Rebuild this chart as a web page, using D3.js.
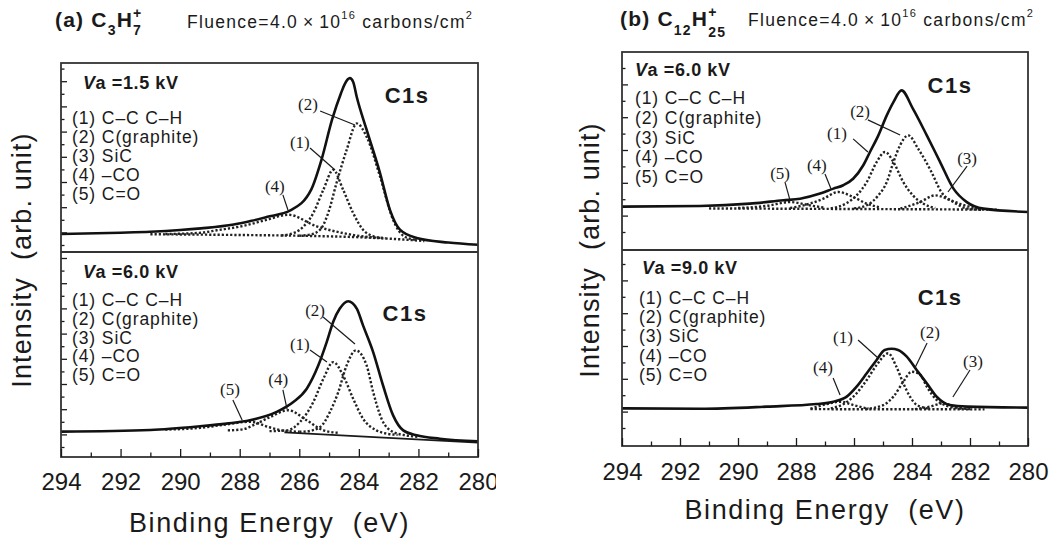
<!DOCTYPE html>
<html><head><meta charset="utf-8">
<script src="https://cdn.jsdelivr.net/npm/d3@7"></script>
<style>body{margin:0;background:#fff}svg{display:block}</style>
</head><body><svg id="c" width="1057" height="544"></svg>
<script>
// ---------------- DATA ----------------
const energyTickLabels = [294, 292, 290, 288, 286, 284, 282, 280];
const energyMinorTicks = [294,293,292,291,290,289,288,287,286,285,284,283,282,281,280];
const legendItems = ["(1) C\u2013C C\u2013H", "(2) C(graphite)", "(3) SiC", "(4) \u2013CO", "(5) C=O"];
const vaLabels = ["1.5", "6.0", "6.0", "9.0"];

// (a) C3H7+, Va = 1.5 kV   [binding energy eV, intensity arb.]
const aTopMeasured = [[294,9.5],[292,10.2],[291,10.7],[290,11.6],[289.3,12.5],[288.2,14.5],[287.6,16.5],[287.1,18.5],[286.3,22],[285.6,33],[285.25,49],[284.9,70],[284.6,84],[284.47,89],[284.3,92],[284.19,90],[284.07,82],[283.74,64.7],[283.29,41.8],[282.96,22.4],[282.62,11.8],[282.06,7.4],[281,5],[280,3.8]];
const aTopBase = [[291,9.4],[288,9.0],[286,8.6],[284,7.8],[282.5,6.6],[281.8,5.8]];
const aTopC1 = [[286.6,8.8],[286.3,9.5],[285.98,11.8],[285.53,20.6],[285.19,33],[284.86,43.5],[284.53,33],[284.19,20.6],[283.86,11.8],[283.5,8.3],[283.1,7.3]];
const aTopC2 = [[286.0,8.6],[285.64,9.2],[285.3,11.8],[285.03,20.6],[284.75,36.5],[284.41,54],[284.07,68],[283.74,61],[283.29,40],[282.85,17],[282.5,8.5],[282.1,6.4]];
const aTopC4 = [[290.5,9.5],[289.3,10.2],[288.77,11.5],[287.88,13.8],[287.1,17],[286.37,19.7],[285.42,13.6],[284.53,10],[283.9,8.3],[283.2,7.4]];

// (a) C3H7+, Va = 6.0 kV
const aBotMeasured = [[294,12.4],[291,13.2],[289.33,15],[288.44,16.3],[287.66,17.9],[286.76,22],[286.2,26.8],[285.75,33.3],[285.36,44.7],[285.08,56],[284.86,66],[284.64,72.4],[284.36,76],[284.07,72.4],[283.86,64.2],[283.52,51.2],[283.19,35],[282.85,20.3],[282.51,13],[282.06,10.6],[281.28,8.9],[280,7.6]];
const aBotBase = [[286.5,12.0],[280,7.0]];
const aBotC1 = [[287.0,12.6],[286.42,13],[285.98,17],[285.53,26.8],[285.19,38.2],[284.86,46.3],[284.53,39.8],[284.19,28.4],[283.86,18.7],[283.41,13],[283.1,11.5],[282.7,10.8]];
const aBotC2 = [[286.0,12.3],[285.75,12.5],[285.3,14.6],[284.97,22],[284.69,31.7],[284.41,44.7],[284.1,52],[283.74,44.7],[283.52,31.7],[283.24,18.7],[282.85,12.2],[282.4,10.5],[282,9.8]];
const aBotC4 = [[288.4,13.0],[287.9,13.5],[287.54,15.5],[286.98,19.5],[286.37,22.8],[285.75,17.9],[285.19,13],[284.7,11.8]];
const aBotC5 = [[290.5,13.4],[289.33,14.2],[288.5,15.8],[287.66,17.2],[287.0,14.5],[286.6,13],[286.0,12.3]];

// (b) C12H25+, Va = 6.0 kV
const bTopMeasured = [[294,21.9],[291.31,22.2],[289.59,23.4],[288.44,25.1],[287.86,25.9],[287.17,28.5],[286.71,31],[286.37,32.7],[286.03,36],[285.68,42.8],[285.45,49.5],[285.16,57.9],[284.87,68],[284.64,74.7],[284.36,80.6],[283.97,71.4],[283.49,57.9],[283.03,44.4],[282.57,31],[282.11,24.2],[281.54,20.9],[280,19.2]];
const bTopBase = [[291,21.0],[281,20.4]];
const bTopC1 = [[286.8,21],[286.25,23.7],[285.91,27.6],[285.56,34.3],[285.22,44.4],[284.93,49.5],[284.64,44.4],[284.3,34.3],[283.97,27.6],[283.62,23.5],[283.2,21.2]];
const bTopC2 = [[286.0,21],[285.56,22.6],[285.16,27.6],[284.87,34.3],[284.64,44.4],[284.41,52.9],[284.13,57.9],[283.79,51.2],[283.33,39.4],[282.99,29.3],[282.57,24.2],[282.1,21],[281.6,20.3]];
const bTopC3 = [[284.4,20.9],[283.72,24.2],[283.21,27.6],[282.66,25.1],[282.2,22.6],[281.7,21]];
const bTopC4 = [[288.2,21.2],[287.5,23.5],[287.06,25.9],[286.54,29.3],[286.03,26.8],[285.56,23.4],[285.1,21.5]];
const bTopC5 = [[290,21.2],[289,22.3],[288.21,24.2],[287.5,22.5],[287,21.3]];

// (b) C12H25+, Va = 9.0 kV
const bBotMeasured = [[294,19.2],[291.3,19.0],[289,20.1],[287.29,21.4],[286.71,22.6],[286.25,25.2],[285.91,30.3],[285.56,37.1],[285.22,43.9],[284.94,49],[284.7,49.6],[284.48,49],[284.18,45.6],[283.84,38.8],[283.49,32],[283.15,25.2],[282.69,20.9],[282.1,20.1],[280,19.6]];
const bBotBase = [[287.5,18.8],[281.5,18.7]];
const bBotC1 = [[286.8,19.2],[286.25,22.4],[285.91,26.9],[285.56,33.7],[285.22,41.3],[284.82,47.3],[284.54,40.5],[284.3,32],[284.07,25.2],[283.84,21],[283.4,19]];
const bBotC2 = [[285.6,18.9],[284.99,20.9],[284.64,25.2],[284.3,32.8],[284.01,37.9],[283.72,36.5],[283.49,30.3],[283.15,23.5],[282.8,20.5],[282.3,19]];
const bBotC3 = [[283.9,18.8],[283.4,20],[282.92,21.8],[282.5,19.8],[282,18.8]];
const bBotC4 = [[287.5,19],[286.94,21.4],[286.48,22.6],[286.0,20.8],[285.5,19]];

// peak labels: [text, labelE, labelI, lineStartE, lineStartI, lineEndE, lineEndI]
const aTopPeakLabels = [["(2)",285.71,77.8,285.30,74.6,284.13,67.2],["(1)",285.98,57.7,285.64,55,284.80,43.4],["(4)",286.82,34.9,286.55,30.2,286.38,22.2]];
const aBotPeakLabels = [["(2)",285.47,71.7,285.2,68.3,284.13,55.1],["(1)",285.98,55.1,285.64,52.2,285.07,46.3],["(4)",286.71,37.6,286.55,32.7,286.41,23.4],["(5)",288.33,32.7,288.23,27.8,287.92,18.0]];
const bTopPeakLabels = [["(2)",285.79,69.7,285.52,65.7,284.41,58.1],["(1)",286.59,58.6,286.03,56.1,285.52,49.5],["(4)",287.28,42.9,287.0,38.4,286.79,30.8],["(5)",288.55,38.4,288.38,34.3,288.21,25.3],["(3)",282.1,46,282.1,42.4,282.76,29.3]];
const bBotPeakLabels = [["(1)",286.38,55.6,285.86,54.1,285.17,44.9],["(2)",283.38,57.7,283.48,52.6,283.9,39.8],["(4)",287.07,40.3,286.72,34.7,286.48,26.0],["(3)",281.9,42.9,282.0,38.8,282.59,25]];

// ---------------- LAYOUT ----------------
const SANS = "'Liberation Sans', Arial, sans-serif";
const SERIF = "'Liberation Serif', 'Times New Roman', serif";
const INK = "#1a1a1a";
const svg = d3.select("#c");

const figs = [
  { x0: 61, x1: 478, labelPad: 16, titleY: 532, yTitleX: 31, yTitleY: 260,
    title: { x: 55, y: 27, segs: [["(a) C",0,21,"bold"],["3",8,14,"bold"],["H",0,21,"bold"],["7",8,14,"bold"],["+",-9,14,"bold",true]] },
    fluence: { x: 187, y: 28 },
    panels: [
      { top: 63, bottom: 252, measured: aTopMeasured, base: aTopBase, baseSolid: false, comps: [aTopC1, aTopC2, aTopC4], peaks: aTopPeakLabels, va: vaLabels[0], vaX: 22, vaY: 83, itX: 11, itY: 118, itStep: 19, c1s: [282.38, 83], tick0: 7, tickStep: 12.6 },
      { top: 252, bottom: 457, measured: aBotMeasured, base: aBotBase, baseSolid: true, comps: [aBotC1, aBotC2, aBotC4, aBotC5], peaks: aBotPeakLabels, va: vaLabels[1], vaX: 22, vaY: 272, itX: 11, itY: 300, itStep: 18.8, c1s: [282.45, 70], tick0: 10, tickStep: 12.6 }
    ] },
  { x0: 622, x1: 1028, labelPad: 17, titleY: 519, yTitleX: 599, yTitleY: 250,
    title: { x: 620, y: 26, segs: [["(b) C",0,21,"bold"],["12",9,14,"bold"],["H",0,21,"bold"],["25",11,14,"bold"],["+",-9,14,"bold",true]] },
    fluence: { x: 748, y: 26 },
    panels: [
      { top: 52, bottom: 250, measured: bTopMeasured, base: bTopBase, baseSolid: false, comps: [bTopC1, bTopC2, bTopC3, bTopC4, bTopC5], peaks: bTopPeakLabels, va: vaLabels[2], vaX: 13, vaY: 70, itX: 13, itY: 98, itStep: 19.8, c1s: [282.69, 83], tick0: 18, tickStep: 16.4 },
      { top: 250, bottom: 446, measured: bBotMeasured, base: bBotBase, baseSolid: false, comps: [bBotC1, bBotC2, bBotC3, bBotC4], peaks: bBotPeakLabels, va: vaLabels[3], vaX: 20, vaY: 268, itX: 17, itY: 298, itStep: 19.2, c1s: [283.03, 76], tick0: 18, tickStep: 16.4 }
    ] }
];

function rich(g, x, y, segs, ls) {
  let cx = x, prevX = x;
  segs.forEach(([t, dy, size, w, stack]) => {
    const sx = stack ? prevX : cx;
    const el = g.append("text").attr("x", sx).attr("y", y + dy)
      .attr("font-family", SANS).attr("font-size", size).attr("letter-spacing", ls || 0)
      .attr("font-weight", w || "normal").attr("fill", INK).style("white-space", "pre").text(t);
    const wd = el.node().getComputedTextLength();
    if (stack) cx = Math.max(cx, sx + wd); else { prevX = cx; cx += wd; }
  });
  return cx;
}

figs.forEach((f, fi) => {
  const clipId = "clip" + fi;
  svg.append("clipPath").attr("id", clipId).append("rect")
    .attr("x", fi === 0 ? 0 : 520).attr("y", 0).attr("width", fi === 0 ? 496 : 537).attr("height", 544);
  const g = svg.append("g").attr("clip-path", `url(#${clipId})`);
  const x = d3.scaleLinear().domain([294, 280]).range([f.x0, f.x1]);

  // titles
  rich(g, f.title.x, f.title.y, f.title.segs, 1.2);
  rich(g, f.fluence.x, f.fluence.y, [["Fluence=4.0\u2009\u00d7\u200910",0,17.5,"normal"],["16",-9,11,"normal"],["\u00a0carbons/cm",0,17.5,"normal"],["2",-9,11,"normal"]], 1.3);

  f.panels.forEach((p, pi) => {
    const y = d3.scaleLinear().domain([0, 100]).range([p.bottom, p.top]);
    const ln = d3.line().x(d => x(d[0])).y(d => y(d[1])).curve(d3.curveMonotoneX);
    const pg = g.append("g");

    // y ticks (inward, alternating)
    const h = p.bottom - p.top;
    const tickVals = d3.range(p.tick0, h - 2, p.tickStep).map(o => y.invert(p.bottom - o));
    const majorY = tickVals.filter((d, i) => i % 2 === 1), minorY = tickVals.filter((d, i) => i % 2 === 0);
    pg.append("g").attr("transform", `translate(${f.x0},0)`).call(d3.axisRight(y).tickValues(majorY).tickSize(6).tickFormat(""))
      .call(s => { s.select(".domain").remove(); s.selectAll("line").attr("stroke", INK).attr("stroke-width", 1.3); });
    pg.append("g").attr("transform", `translate(${f.x0},0)`).call(d3.axisRight(y).tickValues(minorY).tickSize(3.5).tickFormat(""))
      .call(s => { s.select(".domain").remove(); s.selectAll("line").attr("stroke", INK).attr("stroke-width", 1.3); });

    // components (dotted)
    [p.base, ...p.comps].forEach((c, ci) => {
      if (ci === 0 && p.baseSolid) return;
      pg.append("path").attr("d", ln(c)).attr("fill", "none").attr("stroke", "#222")
        .attr("stroke-width", 2.4).attr("stroke-dasharray", "2.2,2");
    });
    if (p.baseSolid) {
      pg.append("path").attr("d", ln(p.base)).attr("fill", "none").attr("stroke", INK).attr("stroke-width", 1.6);
    }
    // measured spectrum
    pg.append("path").attr("d", ln(p.measured)).attr("fill", "none").attr("stroke", "#111")
      .attr("stroke-width", 2.6).attr("stroke-linejoin", "round");

    // peak labels with leaders
    p.peaks.forEach(([t, le, li, se, si, ee, ei]) => {
      pg.append("line").attr("x1", x(se)).attr("y1", y(si)).attr("x2", x(ee)).attr("y2", y(ei))
        .attr("stroke", INK).attr("stroke-width", 1.2);
      pg.append("text").attr("x", x(le)).attr("y", y(li)).attr("text-anchor", "middle")
        .attr("dominant-baseline", "central").attr("font-family", SERIF).attr("font-size", 17)
        .attr("fill", INK).text(t);
    });

    // C1s
    pg.append("text").attr("x", x(p.c1s[0])).attr("y", y(p.c1s[1])).attr("text-anchor", "middle")
      .attr("dominant-baseline", "central").attr("font-family", SANS).attr("font-size", 22)
      .attr("letter-spacing", 1.5).attr("font-weight", "bold").attr("fill", INK).text("C1s");

    // Va label
    const vt = pg.append("text").attr("x", f.x0 + p.vaX).attr("y", p.vaY).attr("dominant-baseline", "central")
      .attr("font-family", SANS).attr("font-size", 18).attr("letter-spacing", 0.6).attr("font-weight", "bold").attr("fill", INK);
    vt.append("tspan").attr("font-style", "italic").text("V");
    vt.append("tspan").text("a =" + p.va + " kV");

    // legend list
    legendItems.forEach((t, i) => {
      pg.append("text").attr("x", f.x0 + p.itX).attr("y", p.itY + i * p.itStep).attr("dominant-baseline", "central")
        .attr("font-family", SANS).attr("font-size", 17.5).attr("letter-spacing", 0.9).attr("fill", INK).text(t);
    });
  });

  // frames and dividers
  const top = f.panels[0].top, mid = f.panels[0].bottom, bot = f.panels[1].bottom;
  g.append("rect").attr("x", f.x0).attr("y", top).attr("width", f.x1 - f.x0).attr("height", bot - top)
    .attr("fill", "none").attr("stroke", "#333").attr("stroke-width", 1.8);
  g.append("line").attr("x1", f.x0).attr("x2", f.x1).attr("y1", mid).attr("y2", mid).attr("stroke", "#333").attr("stroke-width", 1.8);

  // x axis: inward ticks
  g.append("g").attr("transform", `translate(0,${bot})`)
    .call(d3.axisTop(x).tickValues(energyMinorTicks.filter(v => v % 2 !== 0)).tickSize(4.5).tickFormat(""))
    .call(s => { s.select(".domain").remove(); s.selectAll("line").attr("stroke", INK).attr("stroke-width", 1.3); });
  g.append("g").attr("transform", `translate(0,${bot})`)
    .call(d3.axisTop(x).tickValues(energyTickLabels).tickSize(8).tickFormat(""))
    .call(s => { s.select(".domain").remove(); s.selectAll("line").attr("stroke", INK).attr("stroke-width", 1.3); });
  g.append("g").attr("transform", `translate(0,${bot})`)
    .call(d3.axisBottom(x).tickValues(energyTickLabels).tickSize(0).tickPadding(f.labelPad).tickFormat(d3.format("d")))
    .call(s => { s.select(".domain").remove(); s.selectAll("text").attr("font-family", SANS).attr("font-size", 24).attr("fill", INK); });

  // axis titles
  g.append("text").attr("x", (f.x0 + f.x1) / 2).attr("y", f.titleY).attr("text-anchor", "middle")
    .attr("font-family", SANS).attr("font-size", 27).attr("letter-spacing", 1.6).attr("fill", INK).style("white-space", "pre").text("Binding Energy  (eV)");
  g.append("text").attr("transform", `translate(${f.yTitleX},${f.yTitleY}) rotate(-90)`).attr("text-anchor", "middle")
    .attr("font-family", SANS).attr("font-size", 27).attr("letter-spacing", 1.1).attr("fill", INK).style("white-space", "pre").text("Intensity  (arb. unit)");
});
</script></body></html>
